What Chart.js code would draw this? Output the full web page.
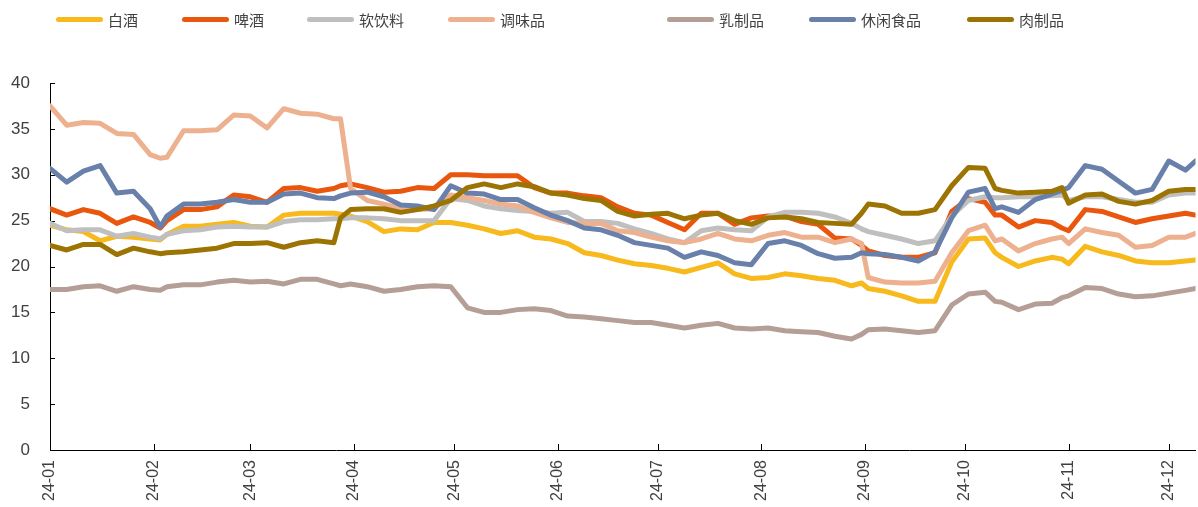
<!DOCTYPE html>
<html>
<head>
<meta charset="utf-8">
<script src="https://cdn.jsdelivr.net/npm/chart.js@4.4.1/dist/chart.umd.min.js"></script>
<style>
  html, body { margin: 0; padding: 0; background: #fff; }
  #wrap { position: relative; width: 1198px; height: 507px; }
  #legend { position: absolute; left: 0; top: 0; width: 1198px; height: 40px;
            font-family: "Noto Sans CJK SC", sans-serif; font-size: 15px; color: #404040; }
  .item { position: absolute; top: 8px; height: 22px; display: flex; align-items: center; white-space: nowrap; }
  .swatch { width: 47px; height: 5px; border-radius: 3px; margin-right: 5px; }
</style>
</head>
<body>
<div id="wrap">
  <canvas id="chart" width="1198" height="507"></canvas>
  <div id="legend"></div>
</div>
<script>
// day offsets from 2024-01-01
const days = [0,5,10,15,20,25,30,33,35,40,45,50,55,60,65,70,75,80,85,87,
  90,95,100,105,110,115,120,125,130,135,140,145,150,155,160,165,170,175,180,185,
  190,195,200,205,210,215,220,225,230,235,240,243,245,250,255,260,265,270,275,280,
  283,285,290,295,300,303,305,310,315,320,325,330,335,340,343];

const monthStarts = [0,31,60,91,121,152,182,213,244,274,305,335];
const monthLabels = ['24-01','24-02','24-03','24-04','24-05','24-06','24-07','24-08','24-09','24-10','24-11','24-12'];

const names = ['白酒','啤酒','软饮料','调味品','乳制品','休闲食品','肉制品'];

const baijiu = [24.5,24.0,23.8,22.8,23.3,23.2,23.0,22.9,23.5,24.4,
  24.4,24.6,24.8,24.4,24.3,25.6,25.8,25.8,25.8,25.7,
  25.5,24.9,23.8,24.1,24.0,24.8,24.8,24.5,24.1,23.6,
  23.9,23.2,23.0,22.5,21.5,21.2,20.7,20.3,20.1,19.8,
  19.4,19.9,20.4,19.2,18.7,18.8,19.2,19.0,18.7,18.5,
  17.9,18.2,17.6,17.3,16.8,16.2,16.2,20.5,23.0,23.1,
  21.5,21.0,20.0,20.6,21.0,20.8,20.3,22.2,21.6,21.2,
  20.6,20.4,20.4,20.6,20.7];
const pijiu = [26.3,25.6,26.2,25.8,24.7,25.4,24.8,24.2,25.0,26.2,
  26.2,26.5,27.8,27.6,27.0,28.5,28.6,28.2,28.5,28.8,
  29.0,28.6,28.1,28.2,28.6,28.5,30.0,30.0,29.9,29.9,
  29.9,28.6,28.0,28.0,27.7,27.5,26.5,25.8,25.6,24.8,
  24.0,25.8,25.8,24.6,25.3,25.5,25.5,24.9,24.6,23.1,
  23.0,22.3,21.7,21.2,21.0,21.0,21.5,26.0,27.4,27.0,
  25.6,25.6,24.3,25.0,24.8,24.2,23.9,26.2,26.0,25.4,
  24.8,25.2,25.5,25.8,25.6];
const ruanyinliao = [24.7,23.9,24.0,24.0,23.3,23.6,23.2,23.0,23.5,23.9,
  24.0,24.3,24.4,24.3,24.3,24.9,25.1,25.1,25.2,25.2,
  25.3,25.3,25.2,25.0,25.0,25.0,27.4,27.2,26.6,26.3,
  26.1,26.0,25.8,25.9,24.9,24.9,24.7,24.1,23.6,23.0,
  22.6,23.9,24.2,24.0,23.9,25.4,25.9,25.9,25.8,25.4,
  24.7,24.1,23.8,23.4,23.0,22.5,22.8,25.5,27.2,27.6,
  27.5,27.5,27.6,27.6,27.7,27.8,27.2,27.6,27.6,27.3,
  27.0,27.0,27.8,28.0,28.0];
const tiaoweipin = [37.5,35.4,35.7,35.6,34.5,34.4,32.2,31.8,31.9,34.8,
  34.8,34.9,36.5,36.4,35.1,37.2,36.7,36.6,36.1,36.1,
  28.5,27.2,26.8,26.3,26.2,26.3,27.8,27.5,27.2,26.8,
  26.6,25.9,25.3,24.8,24.7,24.7,23.9,23.7,23.2,22.8,
  22.6,23.0,23.6,23.0,22.8,23.4,23.7,23.2,23.2,22.6,
  23.0,22.5,18.8,18.3,18.2,18.2,18.4,21.5,23.9,24.5,
  22.8,23.0,21.7,22.5,23.0,23.2,22.5,24.1,23.7,23.4,
  22.1,22.3,23.2,23.2,23.6];
const ruzhipin = [17.5,17.5,17.8,17.9,17.3,17.8,17.5,17.4,17.8,18.0,
  18.0,18.3,18.5,18.3,18.4,18.1,18.6,18.6,18.1,17.9,
  18.1,17.8,17.3,17.5,17.8,17.9,17.8,15.5,15.0,15.0,
  15.3,15.4,15.2,14.6,14.5,14.3,14.1,13.9,13.9,13.6,
  13.3,13.6,13.8,13.3,13.2,13.3,13.0,12.9,12.8,12.4,
  12.1,12.6,13.1,13.2,13.0,12.8,13.0,15.8,17.0,17.2,
  16.2,16.1,15.3,15.9,16.0,16.6,16.8,17.7,17.6,17.0,
  16.7,16.8,17.1,17.4,17.6];
const xiuxian = [30.7,29.2,30.4,31.0,28.0,28.2,26.3,24.3,25.5,26.8,
  26.8,27.0,27.3,27.0,27.0,27.9,28.0,27.5,27.4,27.7,
  28.0,28.1,27.6,26.7,26.6,26.2,28.8,28.0,27.9,27.3,
  27.3,26.4,25.6,25.0,24.2,24.0,23.4,22.6,22.3,22.0,
  21.0,21.6,21.2,20.4,20.2,22.5,22.8,22.3,21.4,20.9,
  21.0,21.5,21.4,21.3,21.0,20.6,21.6,25.3,28.1,28.5,
  26.3,26.5,25.9,27.3,27.9,28.3,28.6,31.0,30.6,29.3,
  28.0,28.4,31.5,30.5,31.5];
const rouzhipin = [22.3,21.8,22.4,22.4,21.3,22.0,21.6,21.4,21.5,21.6,
  21.8,22.0,22.5,22.5,22.6,22.1,22.6,22.8,22.6,25.3,
  26.2,26.3,26.3,25.9,26.2,26.6,27.2,28.6,29.0,28.6,
  29.0,28.7,28.0,27.8,27.4,27.2,26.0,25.5,25.7,25.8,
  25.2,25.6,25.8,25.0,24.6,25.3,25.4,25.2,24.8,24.7,
  24.6,25.8,26.8,26.6,25.8,25.8,26.2,28.8,30.8,30.7,
  28.5,28.3,28.0,28.1,28.2,28.6,26.9,27.8,27.9,27.1,
  26.8,27.2,28.2,28.4,28.4];

const series = [baijiu, pijiu, ruanyinliao, tiaoweipin, ruzhipin, xiuxian, rouzhipin];
const colors = ['#F7B91B','#E9560E','#BFBFBF','#EDB18F','#B59E96','#6880AA','#9C7403'];
const legendLeft = [56, 182, 307, 448, 667, 809, 967];

const textColor = '#404040';
const axisFont = { family: '"Liberation Sans", Arial, sans-serif', size: 17 };

// html legend
const legendEl = document.getElementById('legend');
names.forEach((n, i) => {
  const item = document.createElement('div');
  item.className = 'item';
  item.style.left = legendLeft[i] + 'px';
  item.innerHTML = '<span class="swatch" style="background:' + colors[i] + '"></span><span>' + n + '</span>';
  legendEl.appendChild(item);
});

// inward tick marks like the original
const tickMarks = {
  id: 'tickMarks',
  beforeDatasetsDraw(chart) {
    const { ctx, chartArea, scales: { x, y } } = chart;
    ctx.save();
    ctx.strokeStyle = '#000';
    ctx.lineWidth = 1;
    ctx.beginPath();
    x.ticks.forEach(t => {
      const px = Math.round(x.getPixelForValue(t.value)) + 0.5;
      ctx.moveTo(px, chartArea.bottom);
      ctx.lineTo(px, chartArea.bottom - 6);
    });
    y.ticks.forEach(t => {
      const py = Math.round(y.getPixelForValue(t.value)) + 0.5;
      ctx.moveTo(chartArea.left, py);
      ctx.lineTo(chartArea.left + 5, py);
    });
    ctx.stroke();
    ctx.restore();
  }
};

const ctx = document.getElementById('chart').getContext('2d');
new Chart(ctx, {
  type: 'line',
  data: {
    datasets: names.map((n, i) => ({
      label: n,
      data: days.map((d, k) => ({ x: d, y: series[i][k] })),
      borderColor: colors[i],
      backgroundColor: colors[i],
      order: names.length - i
    }))
  },
  options: {
    responsive: false,
    animation: false,
    layout: { padding: { top: 83, right: 0, left: 0, bottom: 0 } },
    plugins: { legend: { display: false }, tooltip: { enabled: false } },
    elements: {
      point: { radius: 0 },
      line: { borderWidth: 5, tension: 0, borderJoinStyle: 'round', borderCapStyle: 'round' }
    },
    scales: {
      x: {
        type: 'linear',
        min: 0,
        max: 343,
        grid: { display: false, drawTicks: false },
        border: { display: true, color: '#000', width: 1 },
        afterBuildTicks: s => { s.ticks = monthStarts.map(v => ({ value: v })); },
        afterFit: s => { s.height = 57; },
        ticks: {
          autoSkip: false,
          minRotation: 90,
          maxRotation: 90,
          padding: 10,
          color: textColor,
          font: { family: axisFont.family, size: 16 },
          callback: (v, i) => monthLabels[i]
        }
      },
      y: {
        min: 0,
        max: 40,
        grid: { display: false, drawTicks: false },
        border: { display: true, color: '#000', width: 1 },
        afterFit: s => { s.width = 50; },
        ticks: { stepSize: 5, padding: 20, color: textColor, font: axisFont }
      }
    }
  },
  plugins: [tickMarks]
});
</script>
</body>
</html>
